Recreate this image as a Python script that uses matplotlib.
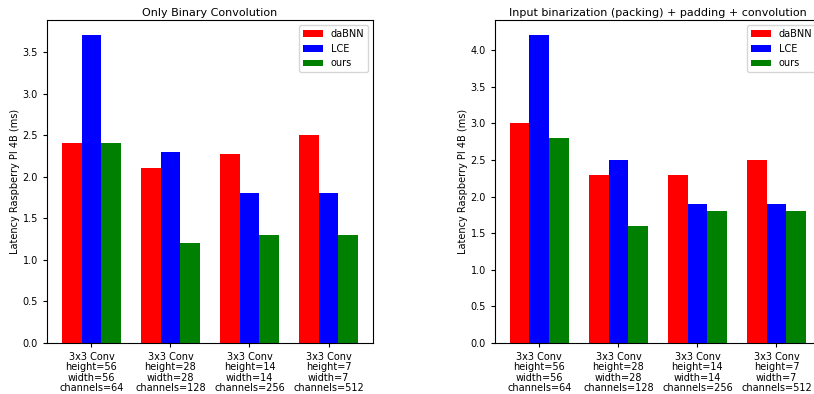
import matplotlib
matplotlib.use("Agg")
import matplotlib.pyplot as plt
import numpy as np

layers = ["3x3 Conv\nheight=56\nwidth=56\nchannels=64",
          "3x3 Conv\nheight=28\nwidth=28\nchannels=128",
          "3x3 Conv\nheight=14\nwidth=14\nchannels=256",
          "3x3 Conv\nheight=7\nwidth=7\nchannels=512"]

# only binary convolution
conv_dabnn = [2.4, 2.1, 2.27, 2.5]
conv_lce = [3.7, 2.3, 1.8, 1.8]
conv_ours = [2.4, 1.2, 1.3, 1.3]

# packing + padding + convolution
full_dabnn = [3.0, 2.3, 2.3, 2.5]
full_lce = [4.2, 2.5, 1.9, 1.9]
full_ours = [2.8, 1.6, 1.8, 1.8]

barWidth = 0.25
br = np.arange(len(layers))

fig = plt.figure(figsize=(8.14, 3.94), dpi=100)
ax1 = fig.add_axes([0.0577, 0.1294, 0.4005, 0.8198])
ax2 = fig.add_axes([0.608, 0.1294, 0.4005, 0.8198])

for ax, vals, title in [(ax1, (conv_dabnn, conv_lce, conv_ours), "Only Binary Convolution"),
                        (ax2, (full_dabnn, full_lce, full_ours),
                         "Input binarization (packing) + padding + convolution")]:
    ax.bar(br - barWidth, vals[0], color='red', width=barWidth, label="daBNN")
    ax.bar(br, vals[1], color='blue', width=barWidth, label="LCE")
    ax.bar(br + barWidth, vals[2], color='green', width=barWidth, label="ours")
    ax.set_xticks(br)
    ax.set_xticklabels(layers, fontsize=7, linespacing=1.05)
    ax.tick_params(labelsize=7, length=3)
    ax.set_ylabel("Latency Raspberry PI 4B (ms)", fontsize=7, labelpad=2)
    ax.set_title(title, fontsize=8, pad=3)
    ax.legend(loc="upper right", fontsize=7)

fig.savefig("out.png", dpi=100)
